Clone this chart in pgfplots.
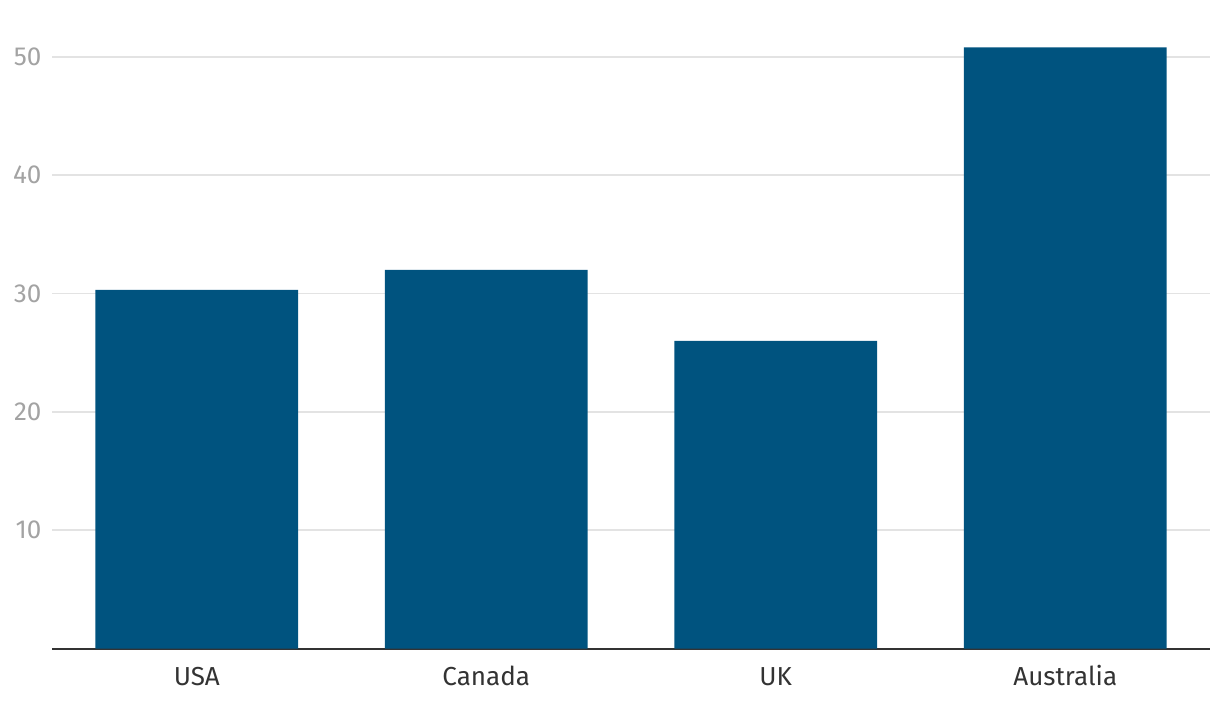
\documentclass[border=0pt]{standalone}
\usepackage{pgfplots}
\pgfplotsset{compat=1.18}
\usepackage{fontspec}
\setmainfont{Fira Sans}
\definecolor{BarBlue}{HTML}{00537F}
\definecolor{AxisDark}{HTML}{333333}
\definecolor{TickGray}{HTML}{A3A3A3}
\definecolor{GridGray}{HTML}{E3E3E3}

\begin{document}
\begin{tikzpicture}
\begin{axis}[
  scale only axis,
  width=1157pt, height=648pt,
  ybar, bar width=0.70,
  xmin=-0.5, xmax=3.5,
  ymin=0, ymax=54.8,
  xtick=data,
  xticklabels={USA, Canada, UK, Australia},
  ytick={10,20,30,40,50},
  axis x line*=bottom,
  axis y line*=left,
  x axis line style={-, AxisDark, line width=2pt},
  y axis line style={draw=none},
  major tick length=0pt,
  ymajorgrids=true,
  grid style={GridGray, line width=1.5pt},
  /pgf/number format/assume math mode=true,
  ticklabel style={font=\fontsize{26}{30}\selectfont},
  xticklabel style={AxisDark, anchor=base, yshift=-37pt},
  yticklabel style={TickGray, xshift=-7pt},
  clip=false,
]
\addplot[fill=BarBlue, draw=none] coordinates {
  (0, 30.3)
  (1, 32.0)
  (2, 26.0)
  (3, 50.8)
};
\end{axis}
\useasboundingbox (current axis.south west) ++(-52pt,-62pt) rectangle ([xshift=10pt]current axis.north east);
\end{tikzpicture}
\end{document}
